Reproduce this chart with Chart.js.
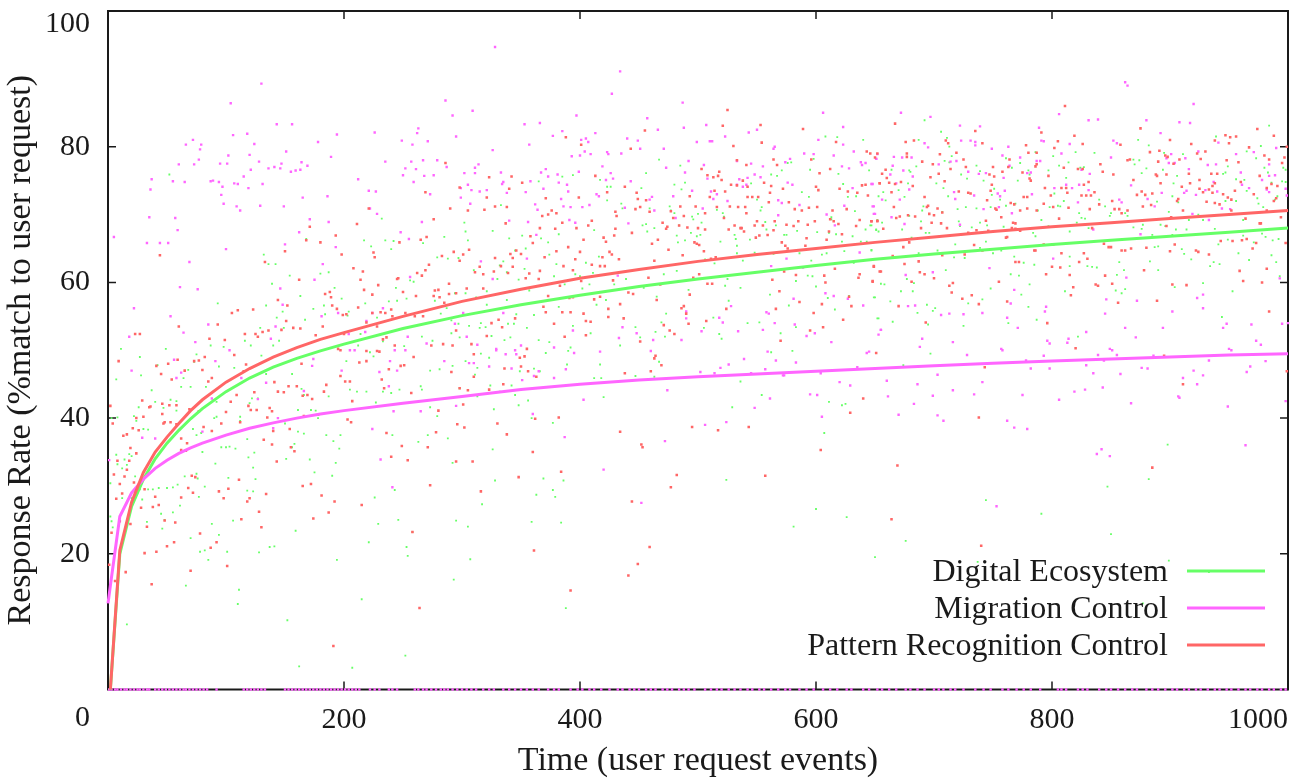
<!DOCTYPE html>
<html>
<head>
<meta charset="utf-8">
<title>Response Rate</title>
<style>
html, body { margin: 0; padding: 0; background: #fff; }
canvas { display: block; }
</style>
<script src="https://cdn.jsdelivr.net/npm/chart.js@4/dist/chart.umd.js"></script>
</head>
<body>
<canvas id="chart" width="1306" height="778"></canvas>
<script>
const seriesNames = ["Digital Ecosystem", "Migration Control", "Pattern Recognition Control"];
const xTicks = [0, 200, 400, 600, 800, 1000];
const yTicks = [0, 20, 40, 60, 80, 100];

// fitted curves
const curveX = [0,2,10,20,30,40,50,60,70,80,100,120,140,160,180,200,250,300,350,400,450,500,550,600,650,700,750,800,850,900,950,1000];
const ecosystemCurve = [null,0,20,27,31,34,36.3,38.2,39.9,41.4,43.9,45.9,47.5,48.8,49.9,50.9,53.2,55.1,56.7,58.1,59.4,60.5,61.5,62.5,63.4,64.2,64.9,65.6,66.2,66.8,67.4,68];
const migrationCurve = [12.7,15.3,25.5,29,31,32.6,33.8,34.8,35.6,36.3,37.5,38.5,39.3,40,40.6,41.1,42.2,43.2,44.2,45,45.6,46.1,46.5,46.9,47.3,47.7,48.1,48.4,48.7,49,49.3,49.5];
const patternCurve = [null,0,20.5,27.6,32,35,37.2,39.2,41.1,42.7,45.3,47.3,49,50.4,51.6,52.6,55,57.2,59,60.6,61.9,63.1,64.1,65,65.9,66.7,67.5,68.2,68.8,69.4,70,70.6];

// scatter points [x, y]
const ecosystemPoints = [
[7,45.7],[28,46.3],[27,49],[37,44.1],[40,42.4],[26,41.6],[42,47.8],[53,42.7],[58,42.5],[58,41.1],[64,45.9],[70,44.6],[68,47.1],[73,48.3],[75,49.4],[62,44.6],[47,41.5],[22,40.3],[24,39.6],[30,38.4],[34,38.3],[8,40.1],[3,40],[2,30.4],[7,34.6],[14,33.9],[18,34.7],[20,34.4],[16,33.1],[12,32.6],[8,33.2],[23,31.4],[27,29.5],[34,29.5],[38,29.5],[43,29.7],[50,29.7],[55,29.8],[59,30.2],[65,31.4],[75,31.8],[76,31.1],[82,29.9],[77,28.4],[61,27.1],[45,25.9],[55,26.1],[33,24.7],[48,25],[46,23.7],[2,25.5],[3,24.8],[4,23.9],[29,28],[20,28.2],[12,28.2],[70,22.3],[94,22.8],[88,24.4],[78,20.3],[82,20.5],[85,19.1],[101,20.3],[128,20.2],[137,21],[141,21.1],[66,15.3],[111,14.7],[110,12.6],[16,9.6],[152,10.2],[162,3.4],[207,3.2],[252,5],[215,13.3],[194,19.1],[253,21],[254,19.7],[221,21.7],[229,24.4],[246,25],[258,23.2],[226,28.3],[243,29.4],[159,23.4],[106,24.9],[118,29.3],[125,31],[102,31.2],[123,29.2],[123,32.7],[119,34.2],[124,34.9],[91,33.3],[80,35],[96,35.7],[100,35.7],[103,35.8],[108,35.5],[118,36.9],[151,34],[158,36.2],[156,35.7],[171,33.9],[175,32],[190,31.5],[193,33.4],[185,37.5],[191,36.6],[197,37.5],[196,35.5],[166,37.7],[161,38],[150,39.2],[72,38.4],[75,37.5],[79,37.8],[90,40],[92,40.2],[112,40.2],[112,39.6],[120,42.2],[122,42.9],[127,42.9],[172,41.2],[176,41.1],[178,40],[156,46.5],[161,41.2],[164,44.3],[166,43.4],[187,43.2],[205,44.2],[211,43.9],[219,43.9],[227,42.3],[233,43.9],[240,43.7],[247,44.2],[273,47],[265,44.7],[266,44.2],[259,42.4],[273,41.6],[279,40.3],[271,37.5],[263,36.5],[241,37.5],[134,46.5],[130,49.2],[149,49.6],[202,48.4],[222,49.7],[225,49.1],[107,47.4],[94,47.6],[83,44.6],[92,42.4],
[52,75.9],[93,56.9],[132,64.1],[136,62.7],[142,62.7],[154,61],[139,59.8],[163,58],[134,56.6],[180,61.3],[187,61.5],[192,59.2],[198,57.6],[168,66.4],[217,66.2],[223,65.3],[235,66.2],[242,66.1],[240,64.9],[232,69.4],[267,65.8],[279,63.7],[259,60.1],[256,60.3],[244,59.2],[245,57.3],[253,57.6],[238,57.2],[218,56.9],[204,55.7],[203,55.1],[174,56.1],[183,56.6],[184,55.3],[167,54.5],[143,54.8],[148,55.7],[149,53.3],[129,53.3],[87,50.7],[98,50.5],[116,51.4],[121,50.7],[140,50.7],[145,51.4],[49,50.2],[11,50.2],[266,52],[275,51.4],[228,54.8],[214,52.4],[212,50.7],[251,50.6],[233,51.3],[277,57.3],
[285,66.7],[302,68.8],[303,67.5],[305,66.2],[326,67.6],[333,71.4],[340,66.5],[351,66.9],[367,66.5],[373,65.9],[382,67.1],[365,74.9],[385,75.6],[394,75.8],[412,67.7],[417,75.1],[423,74.1],[426,74.1],[423,72.1],[435,71.6],[436,70.9],[452,73.9],[456,76.1],[467,78.1],[485,77.2],[489,74.7],[480,74.4],[486,73.7],[459,70.9],[453,68.4],[456,68.6],[457,67.5],[463,68],[476,71.2],[477,70.6],[480,70.2],[484,68.4],[482,66.9],[489,66.2],[483,65.9],[494,67.3],[499,66.8],[502,67],[495,69.7],[496,69.3],[500,70.1],[503,68.8],[516,70.7],[521,70.2],[522,69.7],[519,66],[531,67],[532,66.4],[533,65.4],[544,66.3],[548,64.4],[545,74.6],[550,72.2],[554,71.1],[553,70.6],[557,68.9],[558,67.8],[566,68.4],[573,67],[575,67],[584,67.6],[588,73.3],[594,72.6],[562,75.9],[567,75.7],[571,76.5],[576,77.6],[579,77.7],[595,76.6],[598,78.2],[608,81.5],[618,81.4],[619,76],[623,74.5],[640,81],[645,76.5],[627,72.6],[634,72.7],[633,70.5],[613,69.6],[613,69.3],[601,67.4],[611,67.3],[617,67.1],[622,66],[631,66.8],[638,66],[643,66],[642,67.8],[646,68.4],[651,67.7],[653,67.5],[652,69.2],
[288,63.5],[297,63.6],[310,61.8],[332,62.5],[335,63.1],[338,61.5],[353,62],[354,65],[345,64.7],[374,64.1],[380,62.7],[405,62.9],[416,63.8],[411,61.4],[396,61.2],[400,60.9],[378,60.9],[348,60.4],[330,60.5],[321,58.7],[312,57.8],[294,58.4],[303,58.4],[357,58.8],[387,59.7],[402,59.1],[408,59.7],[429,59.7],[439,60.5],[454,59.2],[471,61.2],[482,61.7],[492,58.9],[500,60.5],[506,63.4],[514,62.8],[523,59.5],[525,60.5],[536,59.2],[533,64.3],[538,63.2],[564,64.2],[586,64.3],[596,63.2],[605,64.1],[609,64.3],[624,64.6],[647,64.8],[583,60.2],[593,61],[597,60.9],[600,59.4],[610,57.7],[616,56],[628,58],[632,62.9],[650,57.8],[577,56.6],[561,58.2],[653,54.7],[552,54.1],[542,54],[526,57.3],[513,54.8],[473,55.4],[465,57.9],[469,54.1],[472,52],[464,52.7],[447,53.4],[451,51.9],[414,56.7],[422,57.4],[409,52.5],[394,53.6],[382,56.4],[361,55.2],[346,55.3],[338,57.4],[344,53.9],[339,53.9],[321,56.7],[316,54],[320,53.4],[306,53.6],[297,53.9],[291,52.5],[291,54.4],[315,53.3],[355,53.3],[287,56.2],[282,55.4],[298,51.9],[325,52.1],[341,51.9],[336,51.5],[374,51.2],[365,51.5],[392,50.4],[434,50.7],[518,52.4],[520,51.7],[505,53.3],[570,52.5],[583,53.4],
[692,83.9],[706,82.2],[687,81],[711,81.3],[713,80],[715,78.6],[709,77.9],[713,77.7],[685,77.1],[679,76.5],[680,76.3],[664,76.6],[678,74.6],[675,72.6],[670,73.6],[657,73.3],[659,72.1],[653,72.7],[702,74.6],[708,73.9],[712,72.7],[679,69.8],[691,71.2],[690,70.6],[689,69],[707,70.4],[720,70.8],[727,71.1],[736,70.9],[721,69],[722,68.3],[693,67.3],[696,67.3],[681,66.6],[673,67.8],[656,68.8],[651,67.8],[647,68.4],[647,64.7],[718,65.6],[703,64.7],[687,64.3],[717,63.7],[726,63.6],[739,65.1],[750,64.3],[757,64.7],[744,66],[768,63.8],[776,62.9],[785,62.6],[710,61.8],[655,59.8],[658,59.7],[677,60.5],[683,59.9],[672,58.7],[682,58.7],[649,57.8],[663,57.2],[694,56.7],[701,56.2],[699,55.8],[686,55.5],[652,54.7],[665,54.2],[695,53.8],[725,53.6],[729,56.9],[741,57.5],[748,59.1],[765,61.2],[772,61],[781,59.7],[774,58.2],[780,56.4],[787,54.5],[763,54],[811,58.7],[815,62.4],[830,62.4],[834,62.3],[838,62.2],[857,63],[861,61.8],[855,61.1],[862,59],[854,58.8],[859,58.4],[890,61.8],[883,63.1],[887,65.2],[890,65.3],[910,64.9],[912,64.2],[918,63.4],[904,59.3],[928,59.9],[937,63],[942,62.7],[934,62.4],[953,58.7],[944,54.9],[967,63.3],[958,64.3],[986,64],[990,63],[993,60.9],[822,52],[815,63.8],
[981,66.7],[987,66.2],[992,66.4],[941,65.6],[949,66.3],[962,66.9],[971,65.9],[978,67.2],[938,67.9],[914,67.8],[905,67.8],[896,68.3],[892,68.5],[902,67],[885,67],[876,67.9],[869,68.1],[877,68.5],[862,70.2],[864,69.8],[845,71.2],[850,70.2],[849,69.8],[840,72.2],[823,70.2],[825,69.5],[828,69.4],[821,68.8],[815,67.5],[831,68],[798,71.1],[805,71.3],[807,71.2],[810,72],[788,70.6],[791,69.2],[784,67.3],[786,66.8],[797,68.3],[771,75],[766,76.9],[761,78.3],[773,77.6],[786,79.2],[780,76.5],[781,75.9],[797,76.5],[801,78.6],[806,77.2],[814,77.7],[812,75.4],[820,79.2],[824,76.9],[827,77],[836,79.1],[802,73.1],[873,81],[882,80.2],[869,78.1],[870,77.4],[874,78],[880,76.8],[876,76.1],[895,79.1],[911,78.9],[939,81.5],[984,83.1],[977,80.1],[965,79.3],[973,78.3],[949,77.1],[945,76],[947,76.2],[956,75.2],[963,75.1],[980,76.9],[983,76.2],[996,76.9],[998,76.6],[986,74.7],[995,74.9],[998,74.8],[894,76.6],[906,75.7],[903,74.6],[902,72.7],[889,71.9],[899,70.4],[907,71.8],[947,72],[956,72],[965,73.5],[974,72.4],[975,71.6],[989,72.2],[991,72.7],[979,71.1],[962,69.2],[928,69.2],[924,70],[916,69.2],[736,77.2],[723,75.9],[728,75.3],[739,76.4],[742,75],[751,73.8],[749,72.9],[756,72.2],[761,71.3],[769,71.6],[748,71.1],[732,68.1],[745,68.4],[759,68.2],[739,68.8],
[580,49.9],[611,42.4],[622,41.9],[625,42.1],[607,37.8],[674,47.8],[697,49.5],[581,24],[600,26.6],[626,25.4],[650,19.5],[676,21.9],[744,27.9],[737,18.8],[791,25.9],[847,29.9],[850,22.9],[882,31],[898,36.1],[899,19],[933,17.3],[877,12.7],
[292,47.7],[303,48.4],[281,47.2],[316,49.5],[323,48.9],[313,47.4],[311,46.4],[298,44.4],[324,44.8],[342,44.8],[349,46.9],[361,47.3],[366,46.9],[371,49.6],[390,49.9],[389,47.9],[417,47.9],[412,45.9],[418,45.9],[447,46.2],[463,46.1],[467,48.3],[562,49.7],[536,45.4],[554,43.4],[529,41.6],[420,43.1],[313,43.2],[332,43.9],[345,43.4],[356,42.6],[348,41.9],[327,41.3],[359,40],[377,39.3],[288,37],[326,35.4],[292,33.4],[328,30.8],[369,31.1],[386,30.8],[377,29.4],[379,28.4],[363,28.7],[317,27.3],[295,24.9],[305,24],[359,24.7],[384,24.6],[307,19.2],[293,16.2],[388,12],[524,30.9]
];

const migrationPoints = [
[5,66.7],[22,56.2],[18,52],[53,55],[61,59.3],[76,59],[69,63],[33,65.8],[44,65.8],[51,65.8],[59,67.7],[57,69.5],[35,69.6],[36,73.7],[37,75.2],[55,74.9],[65,74.8],[60,77.4],[73,77.4],[77,78.1],[78,79.6],[79,80.3],[66,80.3],[72,81],[95,77.5],[101,77.5],[102,78.7],[106,81.7],[118,81.9],[104,86.4],[130,89.3],[124,80.4],[120,78.8],[128,77.8],[121,76.6],[115,75.6],[107,74.6],[110,74.5],[87,74.9],[89,75],[94,74.8],[97,74.1],[96,72.9],[98,71.6],[109,71.2],[112,70.6],[119,73.9],[131,74.5],[129,71.3],[100,64.9],[136,76.8],[141,77],[146,76.8],[147,77.5],[155,76.3],[159,76.5],[163,76.6],[164,77.7],[169,77.2],[151,79.3],[143,83.3],[156,83.3],[178,80.7],[194,81.8],[189,78.5],[165,72.5],[149,71.2],[186,72.7],[171,69.3],[187,68.9],[162,67.4],[150,65.6],[193,65.2],[182,62.7],[175,60.4],[212,75.2],[221,73.5],[227,73.4],[226,82.1],[235,77.8],[222,70.9],[228,70.1],[249,80.9],[258,80.3],[262,82],[263,82.7],[271,80.8],[267,78],[257,77.8],[261,76.7],[252,76.8],[250,75.8],[268,75.7],[276,75.8],[259,74.8],[279,78],[273,73],[266,68.9],[255,66.4],[248,67.4],[256,60.8],[195,55.5],[224,55.5],[233,56.2],[181,55],[219,54.3],[204,52.4],[218,52.7],[142,53.5],[148,56.7],[146,59.1],[74,51.2],[64,52.6],[85,53.8],[138,51.7],
[20,47],[56,48.6],[62,46.7],[58,45.9],[91,48.4],[103,50],[88,42.9],[80,38],[40,37],[29,37.1],[1,33.8],[134,45.2],[127,42.8],[113,45.9],[174,48.7],[173,47.7],[144,40],[140,38.5],[166,44],[242,41],[224,38.4],[231,33.9],[241,29.8],[230,46.8],[239,48.4],[245,47],[238,44.7],[265,41],[198,47],[205,50],[209,50],[243,50],[252,50],[254,52],[270,51],
[328,94.7],[286,86.8],[292,84.6],[309,85.3],[295,81.5],[326,79.5],[353,83.3],[366,83.5],[357,80.3],[377,81.6],[385,82.3],[397,84.6],[413,82],[401,81],[405,81.2],[407,80.7],[404,79.3],[400,78.7],[409,78.9],[393,78.6],[287,77],[314,77.4],[311,76.9],[302,76.1],[311,76.1],[333,76.2],[367,76.2],[371,76.7],[373,75.6],[381,75.9],[335,74.8],[334,74.5],[358,74.9],[382,74.7],[389,74.4],[419,77.1],[423,79.2],[424,78.9],[434,91.1],[427,87.8],[457,84.2],[466,82.5],[440,81.2],[449,80.9],[451,79.7],[435,79],[426,76.1],[422,75.1],[428,75.3],[443,74.9],[399,76.3],[305,74.4],[299,73.9],[308,73.6],[315,73.4],[321,73.6],[338,73.2],[354,73.3],[369,73.8],[390,73.4],[299,72.5],[307,71.6],[362,71.5],[364,70.7],[384,72.3],[386,71.2],[392,71.1],[402,71.1],[408,71.4],[414,73],[416,72.7],[438,71],[459,72.2],[461,72.6],[463,70.6],[471,79.7],[487,86.5],[488,82.8],[492,77.9],[473,76.9],[489,76.2],[505,77.3],[507,83.2],[499,80.7],[510,80.8],[512,80.8],[523,81.5],[543,82.1],[550,82.5],[533,77.9],[545,77.5],[555,77.1],[564,79.7],[565,80],[574,77.7],[578,78.2],[508,75.3],[535,75.2],[548,75.9],[542,75.4],[553,75.5],[533,74.4],[538,74.1],[541,74.4],[495,73.5],[511,73.4],[516,73],[513,72.3],[479,72.7],[525,72],[568,72.1],[571,71.7],[576,74.7],[580,74.4],[481,69.5],[504,70.9],[568,69.9],[586,71.4],[606,85],[623,82.9],[602,81],[623,80.3],[590,79],[598,78.9],[615,78.7],[632,79.3],[638,77.7],[642,77.6],[639,77.3],[622,77.1],[628,76.8],[651,78.2],[648,74.5],[631,73.9],[609,70],[624,71.3],[649,71.2],[650,70.1],[616,68.4],[441,68.7],[391,69.2],[396,68.8],[340,69.1],[356,68.9],[363,67],[316,63.1],[355,63.5],[326,60.5],[432,61],[575,63.5],[637,64.4],[589,62.2],[562,62.4],[608,58.4],[615,58],[627,57.6],[640,56.6],[581,57.6],[528,56.5],[558,55.6],[560,55.4],[565,54],[582,53.8],[599,52.5],[592,52.1],[613,51.2],[655,53],[555,53],[534,52.8],[521,54.1],[518,54.8],[503,52.8],[490,54.7],[490,55.7],[486,51.5],[462,51.5],[448,52.5],[433,51.8],[436,53.4],[394,52.9],[378,50.4],[350,50.7],[329,50.2],[313,50.8],[304,52],[294,53.9],[301,55.5],[335,55.5],
[285,48.4],[306,48.1],[310,48.1],[323,47.6],[342,47.3],[329,50],[345,50],[337,49.4],[346,49.4],[365,46.9],[361,46.2],[351,45.6],[388,47.2],[378,45.9],[395,49.6],[417,49.8],[460,49.9],[502,46.8],[514,46.6],[519,47.4],[526,47.9],[539,48.7],[559,49.8],[566,48.5],[557,47.2],[545,46.6],[573,46.3],[474,44.1],[561,42.9],[548,41.5],[524,39.4],[506,39],[472,36.6],[295,41.8],[403,42.7],[360,40.6],[387,37.2],[420,32.4],[452,27.5],
[583,48.2],[572,46.3],[604,46.6],[620,45.3],[635,47.5],[643,49.6],[645,49.8],[595,43.5],[601,43.4],[629,44.8],[605,40.2],[660,45.5],[661,43.2],[670,40.5],[683,42.1],[686,45],[699,43.3],[703,46.4],[703,40.4],[708,39.6],[716,44.1],[728,49.3],[734,43.5],[741,45.3],[762,39.6],[768,38.6],[779,38.4],[775,43.4],[782,47.3],[778,48.5],[793,49.2],[798,47.3],[806,42.7],[819,43.9],[828,44.2],[843,44.5],[829,47.8],[835,46.6],[839,49.3],[844,48.5],[855,49.3],[858,46.5],[867,42.2],[876,47.4],[881,47.3],[886,49.2],[838,34.7],[842,35.4],[849,34.4],[753,27],[907,43.2],[908,43],[911,45.9],[920,47],[923,45],[928,46.3],[933,48.5],[949,41.7],[965,46.8],[968,47.6],[964,36],[981,48.4],[998,42.5],[952,50],[758,50],[851,50],
[672,85],[697,84.4],[722,83.1],[739,83],[652,78.9],[651,78.2],[666,78.5],[673,78.4],[681,78.4],[665,77.2],[674,76.5],[663,75.9],[647,74.5],[668,74.6],[656,72.2],[671,72.2],[679,73.7],[682,75.6],[648,71.2],[649,70.1],[664,69.6],[675,68.6],[692,80.5],[695,79.9],[723,80.9],[731,80.9],[735,80.7],[735,80.2],[749,79.7],[763,80],[758,78.7],[773,78.4],[704,77.4],[714,77.8],[719,77.9],[729,76.3],[738,76],[744,76.1],[759,75.4],[764,77.2],[717,73.3],[718,72.3],[734,72.8],[754,73.1],[760,73.5],[756,72.7],[742,70.8],[755,71.1],[766,70.2],[779,76.1],[782,76.2],[787,77.9],[790,77.9],[783,73],[789,82.8],[791,80.9],[793,80.8],[806,84.8],[808,79],[815,80.4],[831,83.9],[839,84],[862,89.5],[864,89],[880,83.9],[892,82],[908,83.6],[917,83.5],[920,86.3],[852,80.9],[855,80.5],[850,78.4],[825,76.6],[832,76],[812,74.4],[802,73.9],[817,73.9],[823,74.4],[831,73.6],[822,71.8],[857,72.2],[859,71.8],[867,74.3],[881,72.3],[893,73.2],[887,71.2],[897,78.3],[901,78.9],[899,77.6],[904,77.6],[913,78.3],[916,76.7],[924,79.3],[932,77.3],[939,77.4],[941,80.6],[956,78.9],[971,79.2],[990,79.8],[930,73.6],[937,74.8],[940,73.4],[912,73.2],[914,73.5],[922,72.9],[961,74.4],[967,73.9],[960,76.2],[978,75.1],[984,75.7],[989,75.8],[984,77.4],[999,72.8],[998,73.8],[982,73.7],[984,73.3],[919,70.1],[944,70.9],[951,70.8],[933,69.2],[875,67.1],[835,67.8],[722,68.5],[747,62.1],[676,61.1],[699,61.5],[768,58.9],[765,56.9],[795,56.4],[794,55.7],[762,54.8],[771,53.3],[713,55.4],[706,55.2],[725,55.3],[741,55.5],[678,56.5],[684,56.6],[846,57.5],[845,55.4],[872,57.3],[902,55.7],[923,57.7],[928,58.2],[928,56.2],[993,60.6],[862,53.3],[894,53.3],[945,53.3],[948,53.9],[969,53.8],[995,53.9],[1000,54],[863,60.7],[801,63.5],[655,53],[653,52.3],[690,51.7],[688,50.5],[716,51.2],[796,51.4],[798,51],[814,51.7],[813,51.1],[829,52.7],[871,51.9],[757,50.2],[849,50.2],[950,50.2],[973,51.4],[977,50.8]
];

// migration runs that sat at zero, they show as dashes on the bottom axis
const migrationZeroX = [1,3,6,8,11,14,16,19,22,25,27,30,33,35,40,43,46,49,52,55,58,61,64,66,69,72,75,78,81,84,92,115,118,121,124,127,130,133,150,153,156,159,162,165,168,171,174,177,180,183,186,189,192,195,198,201,204,207,210,213,222,226,230,238,241,245,260,263,267,270,274,278,282,285,288,292,296,300,304,308,312,318,323,327,335,340,345,350,355,360,365,373,378,382,392,398,402,408,412,418,425,432,436,442,446,450,456,460,464,470,474,478,484,488,492,497,506,511,516,520,526,531,536,542,546,552,556,562,568,574,578,586,592,598,606,612,618,626,630,640,645,652,656,662,668,676,680,686,692,700,704,708,714,718,725,735,742,748,758,763,770,776,782,790,805,808,812,822,826,830,840,846,850,856,862,868,872,880,885,890,896,902,906,912,916,922,926,932,938,942,948,952,958,964,968,974,978,984,988,994,998];

const patternPoints = [
[9,48.4],[2,41.8],[4,39.2],[13,37.4],[16,37.6],[21,38.5],[26,38.2],[24,40],[30,40.2],[29,42.6],[35,41.6],[36,41.7],[41,47.7],[45,46.5],[51,48],[54,45.7],[59,48.6],[65,47],[73,48.4],[77,48.5],[82,49],[80,47.1],[85,45.4],[88,45.9],[46,42.1],[46,40.6],[52,41.9],[58,41.9],[48,39.4],[53,39.4],[47,39.2],[58,39.1],[69,41.3],[77,41],[81,38.7],[88,38.1],[62,37],[67,36.3],[62,35.3],[66,35.2],[8,33.7],[19,35.6],[24,34.8],[18,33.7],[16,32.4],[5,31.7],[14,31.4],[10,30.3],[22,30.5],[7,28.1],[12,28.9],[31,29.5],[28,26.8],[40,28.4],[38,26.9],[43,27.2],[10,24.8],[19,24.4],[3,23.1],[33,24],[48,24.9],[57,24.6],[62,28.3],[68,29.7],[72,29],[71,31.5],[74,31.3],[94,29.2],[98,28.2],[102,29.6],[111,30.9],[118,27.7],[120,28.2],[134,28.8],[128,26.2],[113,25.1],[130,23.9],[78,23],[41,20.3],[31,20.1],[50,21.1],[56,21.7],[87,20.9],[92,21.7],[101,18.2],[70,17.5],[15,17.3],[6,16],[37,15.5],[1,18.4],[191,6.4],[165,30],[172,30.3],[181,28.6],[192,27.7],[187,26.1],[174,25.2],[215,27.2],[258,23.2],[273,30.1],[264,12],[143,33.6],[155,35.7],[158,35.1],[154,38.4],[139,36.1],[132,36.8],[140,38.1],[135,40.1],[137,41.5],[139,41],[126,41.2],[119,41.8],[121,41.2],[112,39.4],[100,40.9],[96,39.2],[104,42.4],[109,43.4],[124,43.8],[141,45.3],[149,43.8],[144,43.9],[153,44.7],[160,44.7],[164,48],[169,43.4],[173,42.8],[165,43.3],[178,40.5],[166,40.3],[183,43.9],[185,44.9],[197,46.2],[201,45.4],[205,45.4],[207,42.5],[203,39.8],[206,39.4],[213,48.2],[219,48.4],[230,49.8],[232,45.7],[234,44.4],[238,47.2],[248,47.7],[251,47.8],[257,43.7],[259,49],[236,37.8],[249,35.9],[254,33.8],[240,34.3],[271,35.7],[278,37.9],[280,41.1],[107,49.3],[117,47.9],[115,46.9],[197,50],[219,49.9],[228,49.9],
[44,64],[23,52.4],[27,52.4],[60,53.5],[93,53.8],[86,51.7],[105,55.5],[110,55.9],[123,56],[99,51.5],[116,52.4],[125,52.4],[127,52],[131,52.7],[136,52.9],[147,53],[151,54.3],[157,53.3],[163,53.2],[144,57.4],[152,56.6],[133,63],[150,64.6],[168,66.2],[171,68.2],[180,65.9],[193,66.9],[198,64.1],[211,68.6],[221,70.9],[225,64.4],[226,63.7],[208,62.1],[216,61.6],[214,60.4],[217,58.9],[224,58.2],[229,59.6],[245,60.5],[246,60.6],[162,60.4],[184,58.3],[188,58.6],[189,57.8],[194,56.1],[190,56.6],[199,55.2],[202,55.3],[212,56.3],[224,55.5],[231,55.6],[235,55.5],[240,56],[250,58.6],[261,58],[241,55],[252,55.5],[260,55],[267,55],[262,61.4],[266,61],[269,61.8],[272,62.6],[269,73.3],[276,69.3],[270,66.7],[265,66.3],[247,65.9],[276,58],[277,58.8],[280,58.9],[176,52.2],[182,53.5],[200,52.4],[219,54.1],[228,53.5],[233,51.6],[236,51.9],[243,50.7],[274,50.7],[195,50.2],
[286,77.6],[323,75.5],[342,75.6],[351,74.7],[298,74],[340,73.8],[321,72.5],[371,72.4],[290,70.9],[305,70.6],[319,70.7],[328,71.2],[338,71.1],[399,72.5],[376,70.6],[380,70.2],[373,70],[368,69.8],[337,68.7],[366,68],[379,67.9],[397,68],[385,68.8],[407,68.4],[410,69.1],[388,81.4],[401,80.3],[413,75.7],[423,73.3],[438,74.1],[448,73.2],[449,72.3],[455,82.4],[443,79.7],[447,70.8],[451,71.1],[430,70.4],[431,69.8],[456,72.1],[459,70.4],[470,68.8],[474,68.2],[473,67.9],[430,67.9],[444,67.3],[429,66.9],[420,66.6],[422,66],[403,66.3],[358,66.8],[360,65.8],[306,64.8],[293,64.5],[301,64.1],[283,63.9],[298,63.2],[341,64.2],[346,64.7],[380,64.6],[390,65.2],[400,64.5],[370,63.7],[350,64.2],[328,63.6],[343,63.6],[396,63.4],[425,64.5],[427,64.1],[419,63.7],[433,63.4],[461,65.7],[466,66.3],[475,64.8],[487,64],[463,63.2],[491,68.1],[500,68],[506,67.8],[484,68.4],[488,69.8],[479,69.5],[477,70.5],[485,71.2],[498,71.2],[493,72.7],[506,70.2],[497,65.9],[499,65.7],[501,65.5],[505,64.6],[515,63.7],[511,63.5],[510,72.6],[514,73.5],[516,71.1],[522,69.5],[523,73.4],[527,71.2],[534,71.1],[540,71.1],[546,72.6],[542,72.6],[551,72.6],[541,70.2],[550,69],[526,67.8],[531,68.4],[536,68],[537,68],[539,67.5],[548,68.4],[555,68.4],[559,67],[565,69],[564,67.7],[552,66.9],[549,66.6],[571,65.9],[574,65.4],[576,65],[575,68.5],[581,68.3],[577,71.8],[582,70.8],[588,70.6],[585,69],[594,71],[601,71.1],[599,69],[593,68.5],[592,66.5],[609,66.3],[591,65.4],[521,83.1],[525,85.4],[530,80.1],[553,83.2],[554,80.6],[533,78],[541,77.3],[503,76.7],[508,75.8],[513,75.5],[517,75.7],[518,76.3],[520,75.1],[528,74.4],[533,74.3],[538,75],[542,74.1],[556,74.7],[562,74.2],[564,78.1],[567,77.3],[572,73.8],[561,73.2],[560,71.8],[589,82.6],[596,78.1],[603,76.1],[612,76.7],[617,80.7],[600,74.1],[602,73.6],[620,73.8],[627,73.4],[635,73.2],[639,74.3],[642,74.4],[643,79.3],[646,79],[652,79],[650,78.4],[654,74.6],[644,72.8],[614,70.6],[626,70.8],[612,69.3],[615,69],[619,68.6],[622,67.1],[634,68.3],[637,69.2],[647,69],[652,69],[611,67.5],
[285,57],[281,57.8],[289,59.8],[289,58.3],[295,58.4],[304,59.1],[318,59.1],[311,61.5],[315,62.3],[318,61.2],[327,61.6],[333,62.4],[339,61.4],[343,62.3],[354,60.6],[357,61.3],[365,60.5],[366,61.7],[383,59.5],[386,62.4],[394,61.8],[401,60.2],[410,62.6],[417,62.4],[421,62.4],[428,60.3],[373,58],[369,56.4],[371,55.6],[385,55.6],[392,55.6],[391,57.7],[394,57.8],[412,57.5],[417,57.9],[403,55.4],[424,56.1],[434,56.8],[441,58.5],[445,58.3],[458,60.7],[468,59.7],[465,57.4],[493,58.2],[486,56.2],[488,56.5],[490,55.4],[496,60.7],[501,61.2],[508,59.8],[512,59.8],[524,56.1],[563,60.4],[566,56.1],[569,58.7],[573,61.6],[583,61.1],[586,57.1],[598,55.5],[605,56.8],[607,61],[608,60],[616,62],[623,54.5],[630,56.5],[637,61.2],[636,60.7],[628,57.9],[648,60.2],[649,62.3],[654,61.6],[345,54.7],[331,54.5],[325,54],[334,53.4],[378,53.9],[405,54.3],[409,54.2],[424,54.9],[437,54.7],[471,53.7],[476,52.9],[480,52.4],[492,53.9],[507,54.3],[606,53.4],[595,52.9],[570,51.4],[451,51.3],[387,52],[405,52.2],[321,52.1],[295,52.9],[284,50.9],[292,50.7],[308,50.9],[355,50.2],
[310,49.4],[291,46.8],[310,46.1],[298,44.4],[305,44.1],[323,44.2],[335,45],[336,47.3],[350,47.6],[349,48.9],[353,49.1],[356,46.9],[363,46.1],[301,42],[296,39.1],[302,38.6],[330,39.2],[338,37.6],[362,39.9],[382,40.1],[360,35],[309,33.6],[295,33.6],[384,32.1],[348,31.3],[316,29.2],[361,20.5],[392,14.6],[441,16.8],[449,18.5],[459,21],[444,27.7],[482,31.6],[477,29.8],[434,38],[452,36.1],[453,35.7],[495,38.7],[517,38.2],[543,38.7],[557,31.5],[438,46.6],[460,46.9],[469,47.8],[463,48.8],[464,49.2],
[651,49.6],[640,42.9],[629,40.8],[604,35.3],[669,33],[664,25.1],[738,40.1],[743,47.5],[740,21.2],[885,32.7],[911,45],[895,49.2],[999,46.9],
[667,83.4],[676,80.7],[683,80.9],[677,79],[677,78.5],[690,77.8],[699,77.4],[705,78.9],[710,80.9],[712,80.5],[719,79.1],[714,76.7],[725,78.1],[727,77],[735,82.3],[741,80.5],[704,76],[697,75.5],[709,74.9],[672,74.8],[662,74.7],[654,74.6],[659,76.6],[656,76],[660,75.4],[682,74.2],[664,73.3],[667,74.5],[692,72.6],[666,71.1],[694,71.1],[695,71.3],[696,70.1],[703,70.9],[707,70.3],[700,69.9],[671,69.7],[668,69.5],[678,69.9],[684,69.7],[698,68.8],[689,68],[657,67.9],[647,69],[652,69.1],[711,68],[706,68.7],[729,67.3],[736,67.7],[746,67.6],[744,69.1],[757,69.6],[767,68.8],[766,68],[769,68.7],[769,67.9],[773,67.6],[729,73.2],[731,73.1],[721,73.4],[745,72.1],[752,70.9],[753,70.7],[749,74.4],[748,73.5],[751,75.6],[747,75.9],[758,76.3],[750,77],[764,78.1],[763,77],[775,76.2],[778,80.2],[780,79.1],[787,79.1],[786,77.1],[787,77.4],[781,75.3],[782,75],[797,75.7],[810,76.9],[802,79.8],[805,80.8],[811,86],[819,81.6],[826,80.4],[791,82.1],[822,76.7],[826,76.7],[843,76.3],[852,75.9],[841,77.4],[831,74.8],[827,74.4],[808,73.9],[812,73.9],[794,73.9],[799,72.8],[813,73.2],[776,72.6],[779,72.6],[765,71.7],[768,71.5],[773,70.6],[779,70.9],[787,70.6],[793,71.6],[801,71.1],[814,71],[806,69.4],[825,72.8],[829,72.8],[833,72.8],[836,73.3],[840,71.5],[832,70.8],[851,72],[853,70.8],[857,70.8],[859,70.2],[864,70.6],[834,68],[858,80.3],[875,82.7],[864,78],[866,78.1],[869,75.1],[872,72.9],[876,73.4],[879,72.9],[885,73.1],[877,71.2],[884,71.4],[892,74.6],[890,77.8],[883,79.2],[891,79.4],[896,78.7],[898,78.5],[903,77.5],[900,81],[888,75.9],[889,75.7],[897,75.9],[916,76],[918,80.4],[908,78.1],[923,79],[930,79.3],[926,78.2],[935,76],[940,76],[938,80.9],[947,81.7],[950,80.5],[951,81.4],[956,81.5],[948,78],[958,77.7],[974,82.6],[967,79.9],[988,81.6],[980,78.7],[984,78.1],[997,78.4],[995,77.6],[999,80],[976,75.7],[960,74.8],[925,75.1],[917,74.6],[910,74.1],[938,74.6],[936,74.2],[925,73.8],[928,73.3],[933,73.7],[936,73.2],[945,73],[949,72.5],[955,73.5],[952,72.2],[907,72.3],[906,72],[911,70.6],[931,71.9],[938,71.7],[942,71.5],[952,70.6],[964,69.4],[971,73],[982,73.9],[986,74.5],[991,74.2],[990,72.4],[988,72],[994,69.6],[982,70.6],[901,69.6],[976,68.7],[977,68.7],[897,68.3],
[726,64.1],[734,65.5],[741,64.7],[762,66.7],[761,66.6],[786,64.7],[785,64.7],[793,65.6],[801,65.6],[808,64.3],[830,63.5],[827,64.3],[823,63],[844,65.7],[848,65.2],[850,65.2],[859,64.7],[862,64.7],[867,65],[880,65.1],[900,64.6],[904,65.6],[922,64.7],[924,64.5],[933,64.1],[943,66.1],[953,66.1],[961,66.2],[965,66.4],[973,65.8],[970,65],[998,65.8],[769,63],[772,63],[674,65.2],[679,65.9],[665,63.9],[687,63.1],[675,62.7],[649,62.4],[707,64],[800,62.3],[807,62.2],[655,61.6],[648,60.1],[688,61.5],[692,61.2],[700,60.6],[681,60.1],[795,61.2],[815,61.1],[878,61.8],[845,61],[959,61.7],[962,60.2],[978,60],[982,62],[902,59.7],[914,59.6],[837,59.7],[839,59.5],[851,59.8],[755,60.1],[716,59.9],[713,59.5],[715,58.5],[818,59.3],[816,58.1],[732,58.1],[724,57.6],[738,56.8],[762,57.2],[856,57],[889,57.3],[984,55.7],[670,56.5],[693,54.1],[796,54],[820,50.3]
];

const axisFont = "Liberation Serif";
const textColor = "#1a1a1a";

function toXY(list) {
    return list.map((p) => ({ x: p[0], y: p[1] }));
}

function curveData(values) {
    return curveX.map((x, i) => ({ x: x, y: values[i] }));
}

// frame with inward ticks on all four sides, like the original plot
const framePlugin = {
    id: "frame",
    beforeDatasetsDraw(chart) {
        const { ctx, chartArea: a, scales } = chart;
        ctx.save();
        ctx.strokeStyle = "#1a1a1a";
        ctx.lineWidth = 2;
        ctx.strokeRect(a.left, a.top, a.right - a.left, a.bottom - a.top);
        ctx.lineWidth = 1.5;
        ctx.beginPath();
        xTicks.forEach((v) => {
            const x = scales.x.getPixelForValue(v);
            ctx.moveTo(x, a.bottom);
            ctx.lineTo(x, a.bottom - 8);
            ctx.moveTo(x, a.top);
            ctx.lineTo(x, a.top + 8);
        });
        yTicks.forEach((v) => {
            const y = scales.y.getPixelForValue(v);
            ctx.moveTo(a.left, y);
            ctx.lineTo(a.left + 8, y);
            ctx.moveTo(a.right, y);
            ctx.lineTo(a.right - 8, y);
        });
        ctx.stroke();
        ctx.restore();
    },
    afterDraw(chart) {
        const { ctx, scales } = chart;
        ctx.save();
        ctx.fillStyle = textColor;
        ctx.font = "30px '" + axisFont + "'";
        ctx.textAlign = "right";
        ctx.textBaseline = "middle";
        // these two labels sit off their ticks in the original
        ctx.fillText("0", 90, 718);
        ctx.fillText("100", 90, scales.y.getPixelForValue(100) + 13);

        // key, bottom right inside the plot
        const rows = [571, 608, 645];
        [0, 1, 2].forEach((i) => {
            ctx.fillStyle = textColor;
            ctx.font = "32px '" + axisFont + "'";
            ctx.fillText(seriesNames[i], 1168, rows[i] + 2);
            ctx.strokeStyle = chart.data.datasets[i + 3].borderColor;
            ctx.lineWidth = 3;
            ctx.beginPath();
            ctx.moveTo(1187, rows[i]);
            ctx.lineTo(1265, rows[i]);
            ctx.stroke();
        });
        ctx.restore();
    }
};

// lower order is drawn on top: red over magenta over green, curves over points
function scatterSet(label, points, color, radius, order) {
    return {
        type: "scatter",
        label: label,
        data: points,
        pointStyle: "rect",
        pointRadius: radius,
        pointBorderWidth: 0,
        pointBackgroundColor: color,
        clip: 4,
        order: order
    };
}

function curveSet(label, values, color, order) {
    return {
        type: "line",
        label: label,
        data: curveData(values),
        borderColor: color,
        borderWidth: 3,
        pointRadius: 0,
        tension: 0,
        clip: 2,
        order: order
    };
}

// the scales must not push the plot area in for half a tick label
function noScalePadding(s) {
    s.paddingTop = 0;
    s.paddingBottom = 0;
    s.paddingLeft = 0;
    s.paddingRight = 0;
}

new Chart(document.getElementById("chart").getContext("2d"), {
    data: {
        datasets: [
            scatterSet(seriesNames[0], toXY(ecosystemPoints), "#66ff66", 1.3, 6),
            scatterSet(seriesNames[1], toXY(migrationPoints).concat(migrationZeroX.map((x) => ({ x: x, y: 0 }))), "#ff66ff", 1.7, 5),
            scatterSet(seriesNames[2], toXY(patternPoints), "#ff6666", 1.8, 4),
            curveSet(seriesNames[0], ecosystemCurve, "#66ff66", 3),
            curveSet(seriesNames[1], migrationCurve, "#ff66ff", 2),
            curveSet(seriesNames[2], patternCurve, "#ff6666", 1)
        ]
    },
    options: {
        responsive: false,
        animation: false,
        layout: { padding: { top: 11, right: 18, left: 0, bottom: 0 } },
        plugins: { legend: { display: false }, tooltip: { enabled: false } },
        scales: {
            x: {
                type: "linear",
                min: 0,
                max: 1000,
                afterFit: (s) => { s.height = 88.5; noScalePadding(s); },
                grid: { display: false, drawTicks: false },
                border: { display: false },
                ticks: {
                    stepSize: 200,
                    maxRotation: 0,
                    align: "inner",
                    padding: 13,
                    color: textColor,
                    font: { family: axisFont, size: 30 },
                    callback: (v) => (v === 0 ? "" : String(v))
                },
                title: {
                    display: true,
                    text: "Time (user request events)",
                    color: textColor,
                    font: { family: axisFont, size: 34, lineHeight: 1 },
                    padding: { top: 0, bottom: 0 }
                }
            },
            y: {
                type: "linear",
                min: 0,
                max: 100,
                afterFit: (s) => { s.width = 108; noScalePadding(s); },
                grid: { display: false, drawTicks: false },
                border: { display: false },
                ticks: {
                    stepSize: 20,
                    padding: 18,
                    color: textColor,
                    font: { family: axisFont, size: 30 },
                    callback: (v) => (v === 0 || v === 100 ? "" : String(v))
                },
                title: {
                    display: true,
                    text: "Response Rate (%match to user request)",
                    color: textColor,
                    font: { family: axisFont, size: 34, lineHeight: 1 },
                    padding: { top: 4, bottom: 0 }
                }
            }
        }
    },
    plugins: [framePlugin]
});
</script>
</body>
</html>
